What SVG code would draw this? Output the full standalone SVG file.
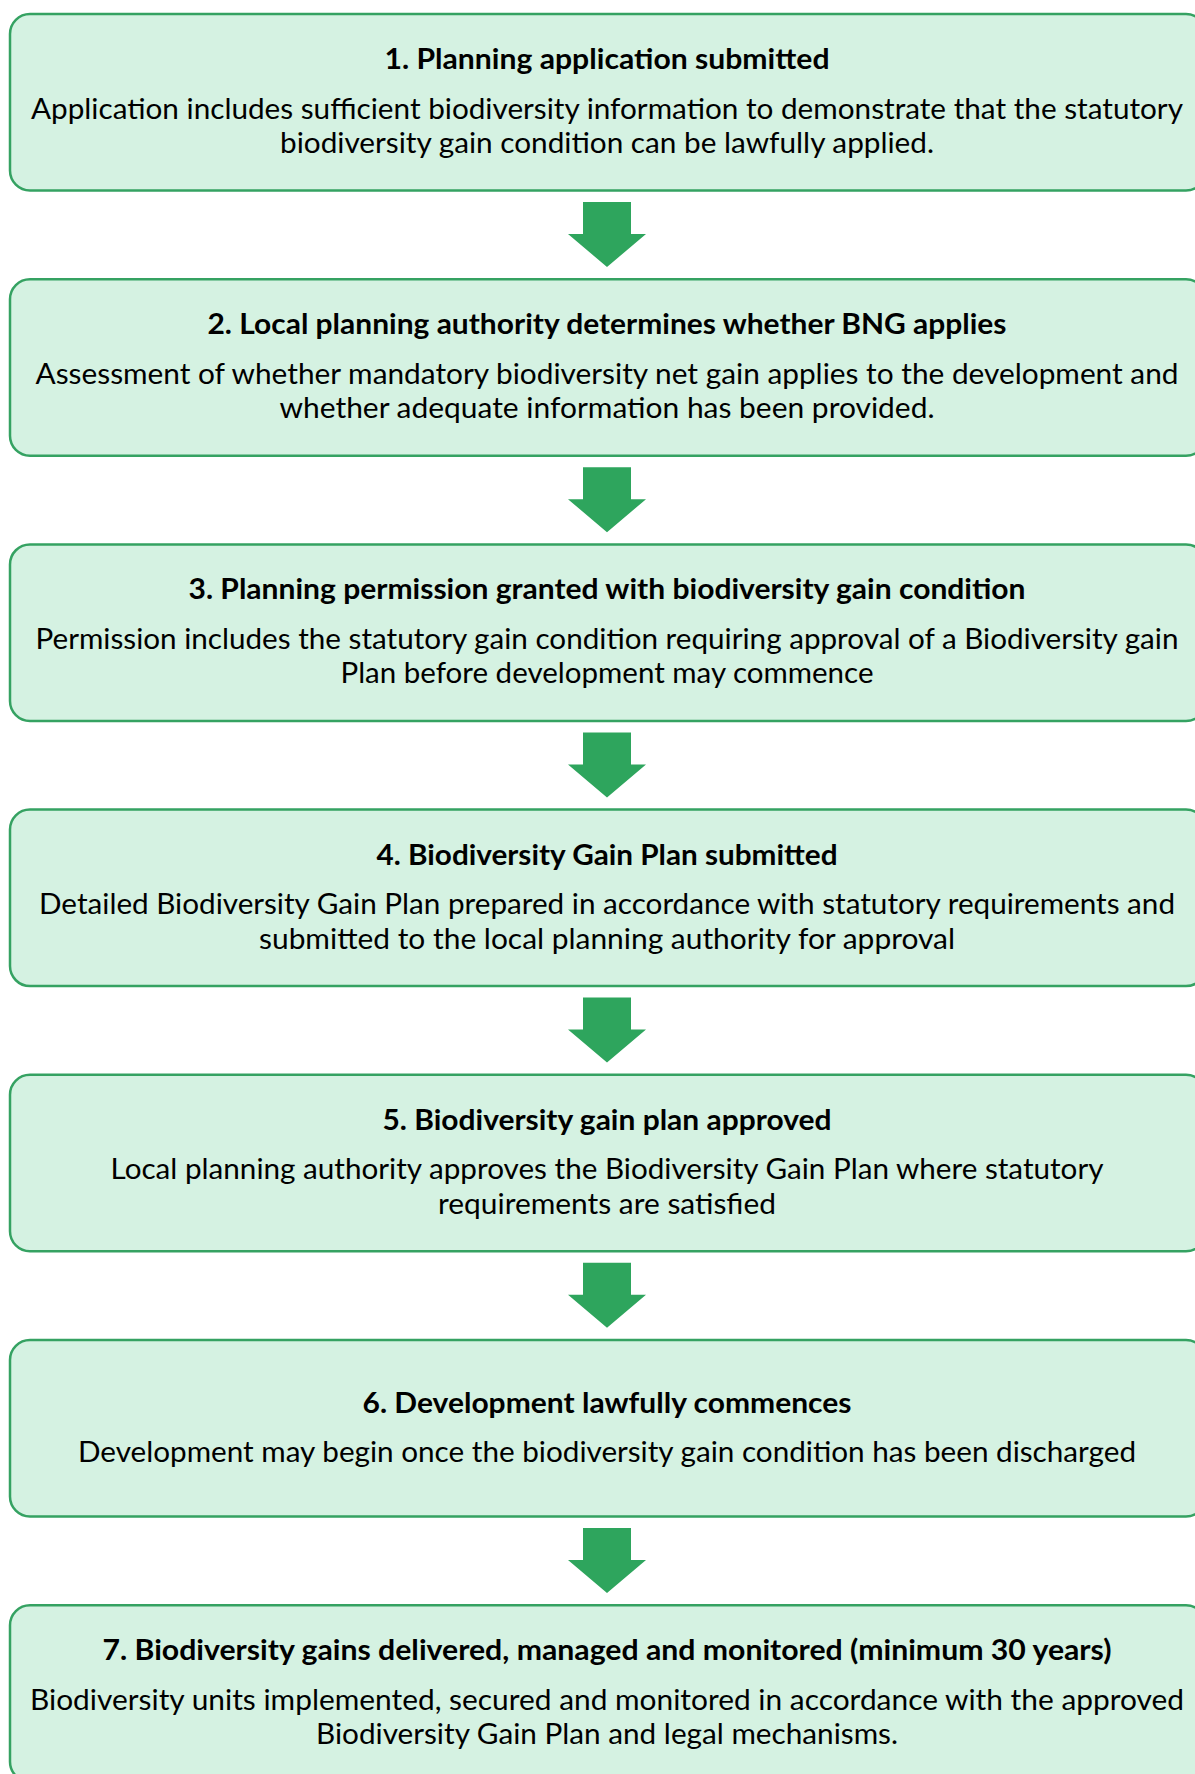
<svg xmlns="http://www.w3.org/2000/svg" width="1195" height="1774" viewBox="0 0 1195 1774">
<style>
.box{fill:#d5f2e2;stroke:#35a262;stroke-width:2.5}
.arrow{fill:#2ea55d}
text{font-family:Lato,"Open Sans","Liberation Sans",sans-serif;font-size:28px;fill:#000;text-anchor:middle}
.t{font-weight:bold}
</style>
<rect width="1195" height="1774" fill="#ffffff"/>
<g id="connectors">
<polygon class="arrow" points="583,202 631,202 631,234 646,234 607,267 568,234 583,234"/>
<polygon class="arrow" points="583,467.2 631,467.2 631,499.2 646,499.2 607,532.2 568,499.2 583,499.2"/>
<polygon class="arrow" points="583,732.4 631,732.4 631,764.4 646,764.4 607,797.4 568,764.4 583,764.4"/>
<polygon class="arrow" points="583,997.6 631,997.6 631,1029.6 646,1029.6 607,1062.6 568,1029.6 583,1029.6"/>
<polygon class="arrow" points="583,1262.8 631,1262.8 631,1294.8 646,1294.8 607,1327.8 568,1294.8 583,1294.8"/>
<polygon class="arrow" points="583,1528 631,1528 631,1560 646,1560 607,1593 568,1560 583,1560"/>
</g>
<g id="step1">
<rect class="box" x="10" y="14" width="1196" height="176.5" rx="20"/>
<text class="t" x="607" y="69" textLength="445" lengthAdjust="spacingAndGlyphs">1. Planning application submitted</text>
<text x="607" y="118.5" textLength="1152" lengthAdjust="spacingAndGlyphs">Application includes sufficient biodiversity information to demonstrate that the statutory</text>
<text x="607" y="153" textLength="654" lengthAdjust="spacingAndGlyphs">biodiversity gain condition can be lawfully applied.</text>
</g>
<g id="step2">
<rect class="box" x="10" y="279.2" width="1196" height="176.5" rx="20"/>
<text class="t" x="607" y="334.2" textLength="799" lengthAdjust="spacingAndGlyphs">2. Local planning authority determines whether BNG applies</text>
<text x="607" y="383.7" textLength="1143" lengthAdjust="spacingAndGlyphs">Assessment of whether mandatory biodiversity net gain applies to the development and</text>
<text x="607" y="418.2" textLength="655" lengthAdjust="spacingAndGlyphs">whether adequate information has been provided.</text>
</g>
<g id="step3">
<rect class="box" x="10" y="544.4" width="1196" height="176.5" rx="20"/>
<text class="t" x="607" y="599.4" textLength="837" lengthAdjust="spacingAndGlyphs">3. Planning permission granted with biodiversity gain condition</text>
<text x="607" y="648.9" textLength="1143" lengthAdjust="spacingAndGlyphs">Permission includes the statutory gain condition requiring approval of a Biodiversity gain</text>
<text x="607" y="683.4" textLength="533" lengthAdjust="spacingAndGlyphs">Plan before development may commence</text>
</g>
<g id="step4">
<rect class="box" x="10" y="809.6" width="1196" height="176.5" rx="20"/>
<text class="t" x="607" y="864.6" textLength="461" lengthAdjust="spacingAndGlyphs">4. Biodiversity Gain Plan submitted</text>
<text x="607" y="914.1" textLength="1136" lengthAdjust="spacingAndGlyphs">Detailed Biodiversity Gain Plan prepared in accordance with statutory requirements and</text>
<text x="607" y="948.6" textLength="696" lengthAdjust="spacingAndGlyphs">submitted to the local planning authority for approval</text>
</g>
<g id="step5">
<rect class="box" x="10" y="1074.8" width="1196" height="176.5" rx="20"/>
<text class="t" x="607" y="1129.8" textLength="449" lengthAdjust="spacingAndGlyphs">5. Biodiversity gain plan approved</text>
<text x="607" y="1179.3" textLength="993" lengthAdjust="spacingAndGlyphs">Local planning authority approves the Biodiversity Gain Plan where statutory</text>
<text x="607" y="1213.8" textLength="338" lengthAdjust="spacingAndGlyphs">requirements are satisfied</text>
</g>
<g id="step6">
<rect class="box" x="10" y="1340" width="1196" height="176.5" rx="20"/>
<text class="t" x="607" y="1413" textLength="489" lengthAdjust="spacingAndGlyphs">6. Development lawfully commences</text>
<text x="607" y="1462" textLength="1058" lengthAdjust="spacingAndGlyphs">Development may begin once the biodiversity gain condition has been discharged</text>
</g>
<g id="step7">
<rect class="box" x="10" y="1605.2" width="1196" height="176.5" rx="20"/>
<text class="t" x="607" y="1660.2" textLength="1009" lengthAdjust="spacingAndGlyphs">7. Biodiversity gains delivered, managed and monitored (minimum 30 years)</text>
<text x="607" y="1709.7" textLength="1154" lengthAdjust="spacingAndGlyphs">Biodiversity units implemented, secured and monitored in accordance with the approved</text>
<text x="607" y="1744.2" textLength="582" lengthAdjust="spacingAndGlyphs">Biodiversity Gain Plan and legal mechanisms.</text>
</g>
</svg>
